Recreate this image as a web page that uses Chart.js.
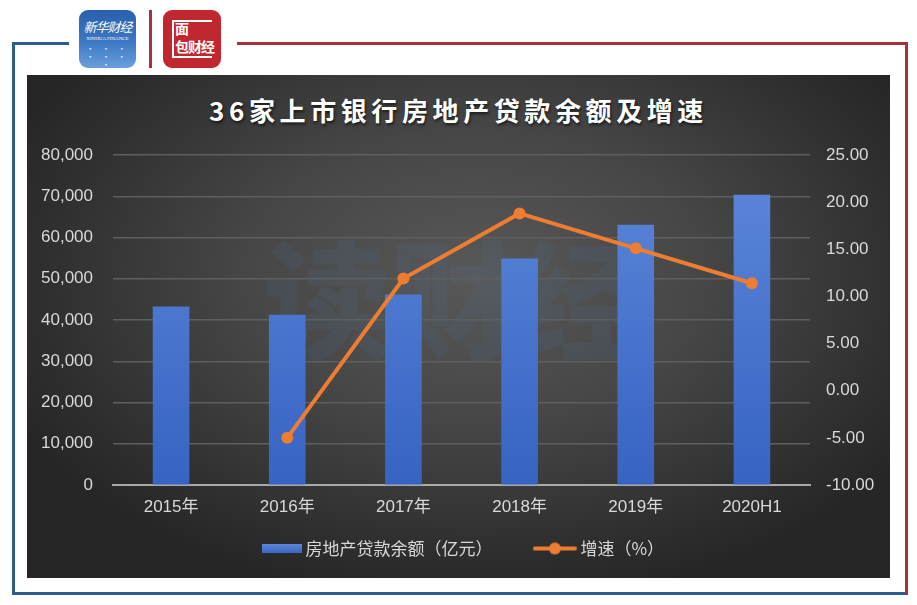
<!DOCTYPE html>
<html lang="zh">
<head>
<meta charset="utf-8">
<title>36家上市银行房地产贷款余额及增速</title>
<script src="https://cdn.jsdelivr.net/npm/chart.js@4.4.1/dist/chart.umd.min.js"></script>
<style>
  body { margin: 0; width: 917px; height: 605px; background: #fff; position: relative; overflow: hidden;
         font-family: "Noto Sans CJK SC", "Liberation Sans", sans-serif; }
  .ln { position: absolute; }
  .blue { background: #2d5b8e; }
  .red { background: #a8303a; }
  #logo1 { position: absolute; left: 79px; top: 10px; width: 57px; height: 58px; border-radius: 9px;
           background: linear-gradient(180deg, #2a5fae 0%, #3c78c4 55%, #6aa0dc 100%); color: #fff; text-align: center; overflow: hidden; }
  #logo1 .cn { font-size: 13px; font-style: italic; margin-top: 10px; line-height: 14px; letter-spacing: -1px; }
  #logo1 .en { font-size: 5px; font-family: "Liberation Serif", serif; margin-top: 2px; }
  #logo1 .net { font-size: 8px; letter-spacing: 3px; margin-top: 4px; line-height: 8px; opacity: .9; }
  #logo2 { position: absolute; left: 163px; top: 10px; width: 58px; height: 58px; border-radius: 9px; background: #c1272f; overflow: hidden; }
  #logo2 .box { position: absolute; left: 9px; top: 10px; width: 40px; height: 38px; border: 2px solid #fff; border-right: none; box-sizing: border-box; }
  #logo2 .t1 { position: absolute; left: 12px; top: 11px; color: #fff; font-size: 14px; font-weight: bold; line-height: 14px; }
  #logo2 .t2 { position: absolute; left: 12px; top: 29px; color: #fff; font-size: 14px; font-weight: bold; line-height: 14px; letter-spacing: -1px; }
  #panel { position: absolute; left: 27px; top: 75px; width: 863px; height: 503px;
           background: radial-gradient(ellipse 60% 65% at 52% 40%, #585858 0%, #464646 45%, #2e2e2e 85%, #262626 100%); }
  #wm { position: absolute; left: 236px; top: 150px; font-size: 128px; font-weight: 900; color: rgba(80,120,190,0.10);
        letter-spacing: -2px; line-height: 140px; white-space: nowrap; }
  #title { position: absolute; left: 0; width: 863px; top: 16px; text-align: center; color: #fff; font-size: 26px;
           font-weight: bold; letter-spacing: 4.6px; text-shadow: 1px 2px 3px rgba(0,0,0,0.6); }
  #chart { position: absolute; left: 0; top: 0; }
</style>
</head>
<body>
<!-- 外枠 -->
<div class="ln blue" style="left:12px;top:42px;width:57px;height:2.5px"></div>
<div class="ln blue" style="left:12px;top:42px;width:2.5px;height:553px"></div>
<div class="ln blue" style="left:12px;top:592px;width:896px;height:2.5px"></div>
<div class="ln red" style="left:237px;top:42px;width:671px;height:2.5px"></div>
<div class="ln red" style="left:905px;top:42px;width:2.5px;height:552px"></div>
<div class="ln red" style="left:149px;top:10px;width:2.5px;height:58px"></div>

<div id="logo1"><div class="cn">新华财经</div><div class="en">XINHUA FINANCE</div><div class="net">• • •<br>• • • •</div></div>
<div id="logo2"><div class="box"></div><div class="t1">面</div><div class="t2">包财经</div></div>

<div id="panel">
  <div id="wm">读财经</div>
  <div id="title">36家上市银行房地产贷款余额及增速</div>
  <canvas id="chart" width="863" height="503"></canvas>
</div>

<script>
// データ
const years = ['2015年', '2016年', '2017年', '2018年', '2019年', '2020H1'];
const loanBalance = [43200, 41200, 46100, 54800, 63000, 70300];   // 房地产贷款余额（亿元）
const growthRate = [null, -5.0, 11.9, 18.8, 15.1, 11.4];          // 增速（%）

const leftTicks = [0, 10000, 20000, 30000, 40000, 50000, 60000, 70000, 80000];
const rightTicks = [-10, -5, 0, 5, 10, 15, 20, 25];

const barLabel = '房地产贷款余额（亿元）';
const lineLabel = '增速（%）';

const textColor = '#d9d9d9';
const tickFont = { family: "'Liberation Sans', 'Noto Sans CJK SC', sans-serif", size: 17 };

// 凡例アイコン（右寄せで描いて文字との間隔を詰める）
function barIcon() {
    const c = document.createElement('canvas');
    c.width = 54; c.height = 9;
    const g = c.getContext('2d');
    const gr = g.createLinearGradient(0, 0, 0, 9);
    gr.addColorStop(0, '#5a86d8'); gr.addColorStop(1, '#3a66c4');
    g.fillStyle = gr;
    g.fillRect(14, 0, 40, 9);
    return c;
}
function lineIcon() {
    const c = document.createElement('canvas');
    c.width = 54; c.height = 14;
    const g = c.getContext('2d');
    g.strokeStyle = '#ed7d31'; g.lineWidth = 4; g.lineCap = 'round';
    g.beginPath(); g.moveTo(12, 7); g.lineTo(52, 7); g.stroke();
    g.fillStyle = '#ed7d31';
    g.beginPath(); g.arc(32, 7, 6, 0, Math.PI * 2); g.fill();
    return c;
}
const icons = [barIcon(), lineIcon()];

function barGradient(context) {
    const chart = context.chart;
    const area = chart.chartArea;
    if (!area) return '#4a76cf';
    const g = chart.ctx.createLinearGradient(0, area.top, 0, area.bottom);
    g.addColorStop(0, '#5d88d9');
    g.addColorStop(1, '#3763c3');
    return g;
}

const ctx = document.getElementById('chart').getContext('2d');
new Chart(ctx, {
    data: {
        labels: years,
        datasets: [
            {
                type: 'line', label: lineLabel, data: growthRate, yAxisID: 'y1', order: 1,
                borderColor: '#ed7d31', backgroundColor: '#ed7d31', borderWidth: 4,
                pointRadius: 6, pointHoverRadius: 6, pointBackgroundColor: '#ed7d31', pointBorderWidth: 0,
                tension: 0, spanGaps: false
            },
            {
                type: 'bar', label: barLabel, data: loanBalance, yAxisID: 'y', order: 2,
                backgroundColor: barGradient, barThickness: 36
            }
        ]
    },
    options: {
        responsive: false,
        animation: false,
        layout: { padding: { top: 80, bottom: 11, left: 0, right: 0 } },
        plugins: {
            tooltip: { enabled: false },
            legend: {
                position: 'bottom',
                labels: {
                    color: textColor,
                    font: { family: "'Noto Sans CJK SC', sans-serif", size: 17 },
                    usePointStyle: true,
                    pointStyleWidth: 44,
                    padding: 10,
                    generateLabels: (chart) => [
                        { text: barLabel + '\u3000\u3000', pointStyle: icons[0], fontColor: textColor, datasetIndex: 1, lineWidth: 0, strokeStyle: 'transparent', fillStyle: 'transparent' },
                        { text: lineLabel, pointStyle: icons[1], fontColor: textColor, datasetIndex: 0, lineWidth: 0, strokeStyle: 'transparent', fillStyle: 'transparent' }
                    ]
                }
            }
        },
        scales: {
            x: {
                grid: { display: false, drawTicks: false },
                border: { color: '#a9a9a9', width: 2 },
                ticks: { color: textColor, font: tickFont, padding: 12 },
                afterFit: (s) => { s.height = 45; }
            },
            y: {
                position: 'left',
                min: 0, max: 80000,
                afterBuildTicks: (s) => { s.ticks = leftTicks.map(v => ({ value: v })); },
                ticks: { color: textColor, font: tickFont, padding: 20, callback: (v) => v.toLocaleString('en-US') },
                grid: { color: '#5f5f5f', lineWidth: 1.5, drawTicks: false },
                border: { display: false },
                afterFit: (s) => { s.width = 86; }
            },
            y1: {
                position: 'right',
                min: -10, max: 25,
                afterBuildTicks: (s) => { s.ticks = rightTicks.map(v => ({ value: v })); },
                ticks: { color: textColor, font: tickFont, padding: 16, callback: (v) => v.toFixed(2) },
                grid: { drawOnChartArea: false, drawTicks: false },
                border: { display: false },
                afterFit: (s) => { s.width = 80; }
            }
        }
    }
});
</script>
</body>
</html>
